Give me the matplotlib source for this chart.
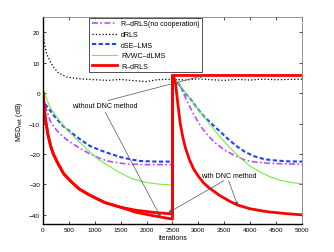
import matplotlib
matplotlib.use("Agg")
import matplotlib.pyplot as plt

matplotlib.rcParams["font.family"] = ["Liberation Sans", "DejaVu Sans"]
matplotlib.rcParams["font.size"] = 5

# R-dRLS (no cooperation)
nocoop_it = [0, 50, 135, 230, 330, 450, 580, 750, 910, 1080, 1240, 1450, 1630, 2000, 2500,
             2500, 2600, 2700, 2790, 2910, 3040, 3170, 3300, 3500, 3760, 3900, 4070, 4400, 5000]
nocoop_db = [0, -4.5, -9, -11.5, -13.4, -15.2, -16.7, -18.5, -20, -21.3, -22.3, -22.9, -23.3, -23.5, -23.5,
             5.5, 4, 0.5, -3, -7, -10.8, -13.6, -16, -18.7, -21, -22, -22.6, -23.1, -23.4]

# dRLS
drls_it = [0, 10, 30, 70, 135, 200, 300, 460, 700, 1000, 1250, 1500, 1750, 2000, 2200, 2500,
           2750, 3000, 3250, 3500, 3750, 4000, 4250, 4500, 4750, 5000]
drls_db = [21, 19, 16, 13, 10.5, 8.6, 6.6, 5.3, 4.7, 4.4, 4.2, 4.5, 4.1, 3.8, 4.4, 4.6,
           4.3, 4.7, 4.4, 4.2, 4.5, 4.3, 4.6, 4.4, 4.5, 4.6]

# dSE-LMS
dse_it = [0, 40, 150, 265, 400, 580, 750, 910, 1080, 1240, 1490, 1700, 1880, 2200, 2500,
          2500, 2620, 2720, 2850, 2970, 3100, 3270, 3430, 3600, 3760, 3900, 4070, 4250, 4400, 4700, 5000]
dse_db = [-1.5, -3.6, -6, -8.5, -11, -13.4, -15.6, -17.4, -18.6, -19.6, -21, -21.8, -22.3, -22.5, -22.5,
          5.5, 3, 0.5, -2, -4.8, -7.5, -10.3, -12.8, -15.5, -17.7, -19.3, -20.7, -21.6, -22, -22.4, -22.5]

# RVWC-dLMS
rvwc_it = [0, 60, 135, 230, 330, 450, 580, 750, 910, 1070, 1240, 1450, 1700, 2000, 2250, 2500,
           2500, 2600, 2800, 3000, 3200, 3400, 3600, 3820, 4000, 4200, 4400, 4600, 4800, 5000]
rvwc_db = [1.5, -1.5, -4.6, -7, -9.2, -11.7, -14, -16.8, -19.4, -21.8, -23.6, -25.8, -28, -29.4, -29.9, -30.2,
           5.5, 3.6, -1, -5.5, -9.8, -14, -17.8, -21.5, -24, -26, -27.6, -28.7, -29.4, -29.8]

# R-dRLS with DNC method
dnc_it = [0, 25, 50, 100, 150, 200, 270, 400, 540, 700, 900, 1200, 1500, 1800, 2200, 2500,
          2500, 2520, 2560, 2600, 2650, 2700, 2750, 2830, 2910, 3000, 3100, 3200, 3400, 3600, 3760,
          4000, 4340, 4700, 5000]
dnc_db = [0, -5, -9, -14, -17.5, -20, -22.5, -26.5, -29, -31.5, -33.5, -36, -37.5, -38.5, -39.3, -39.7,
          5.8, 5.5, 3, -3, -10, -14.5, -18, -22, -25, -27.3, -29.5, -31, -33.5, -35.5, -36.8,
          -38, -39, -39.6, -40]

# R-dRLS without DNC method
nodnc_it = [0, 25, 50, 100, 150, 200, 270, 400, 540, 700, 900, 1200, 1500, 1800, 2200, 2500, 2500, 5000]
nodnc_db = [0, -5, -9, -14, -17.5, -20, -22.5, -26.5, -29, -31.5, -33.5, -36, -37.5, -39.2, -40.5, -41.4, 5.8, 5.8]

fig = plt.figure(figsize=(3.34, 2.53), dpi=100)
ax = fig.add_axes([0.1287, 0.1107, 0.7754, 0.818])

ax.plot(nocoop_it, nocoop_db, color="#B84DFF", lw=1.2, dashes=(3.5, 1.5, 1, 1.5),
        label="R\u2013dRLS(no cooperation)")
ax.plot(drls_it, drls_db, color="black", lw=0.9, linestyle=":", label="dRLS")
ax.plot(dse_it, dse_db, color="#2040FF", lw=1.5, dashes=(2, 1.2), label="dSE\u2013LMS")
ax.plot(rvwc_it, rvwc_db, color="#70F040", lw=0.8, label="RVWC\u2013dLMS")
ax.plot(nodnc_it, nodnc_db, color="#FF0000", lw=2.0)
ax.plot(dnc_it, dnc_db, color="#FF0000", lw=2.0, label="R\u2013dRLS")

ax.set_xlim(0, 5000)
ax.set_ylim(-43, 25)
ax.set_xticks(range(0, 5001, 500))
ax.set_yticks(range(-40, 21, 10))
ax.tick_params(direction="in", length=2, width=0.5, labelsize=4.6, top=True, right=True, pad=2)
for s in ["left", "bottom"]:
    ax.spines[s].set_color("black")
    ax.spines[s].set_linewidth(1.0)
for s in ["top", "right"]:
    ax.spines[s].set_color("#808080")
    ax.spines[s].set_linewidth(0.6)
ax.grid(False)

ax.set_xlabel("iterations", fontsize=5, labelpad=1.5)
ax.set_ylabel(r"MSD$_{\rm net}$ (dB)", fontsize=5, labelpad=3)

leg = ax.legend(loc="upper left", bbox_to_anchor=(0.178, 0.997), fontsize=5.1, frameon=True,
                fancybox=False, edgecolor="black", handlelength=3.5, handletextpad=0.6,
                labelspacing=0.5, borderpad=0.4, borderaxespad=0)
leg.get_frame().set_linewidth(0.6)

arrow = dict(arrowstyle="-|>", lw=0.5, color="#555555", mutation_scale=5, shrinkA=0, shrinkB=0)
ax.text(1200, -4, "without DNC method", fontsize=5, ha="center", va="center")
ax.annotate("", xy=(3100, 5.8), xytext=(1260, -2.4), arrowprops=arrow)
ax.annotate("", xy=(2270, -40.7), xytext=(1200, -6.2), arrowprops=arrow)
ax.text(3585, -27.2, "with DNC method", fontsize=5, ha="center", va="center")
ax.annotate("", xy=(2420, -39.3), xytext=(3490, -28.8), arrowprops=arrow)
ax.annotate("", xy=(3760, -37), xytext=(3585, -28.8), arrowprops=arrow)

fig.savefig("out.png", dpi=100)
